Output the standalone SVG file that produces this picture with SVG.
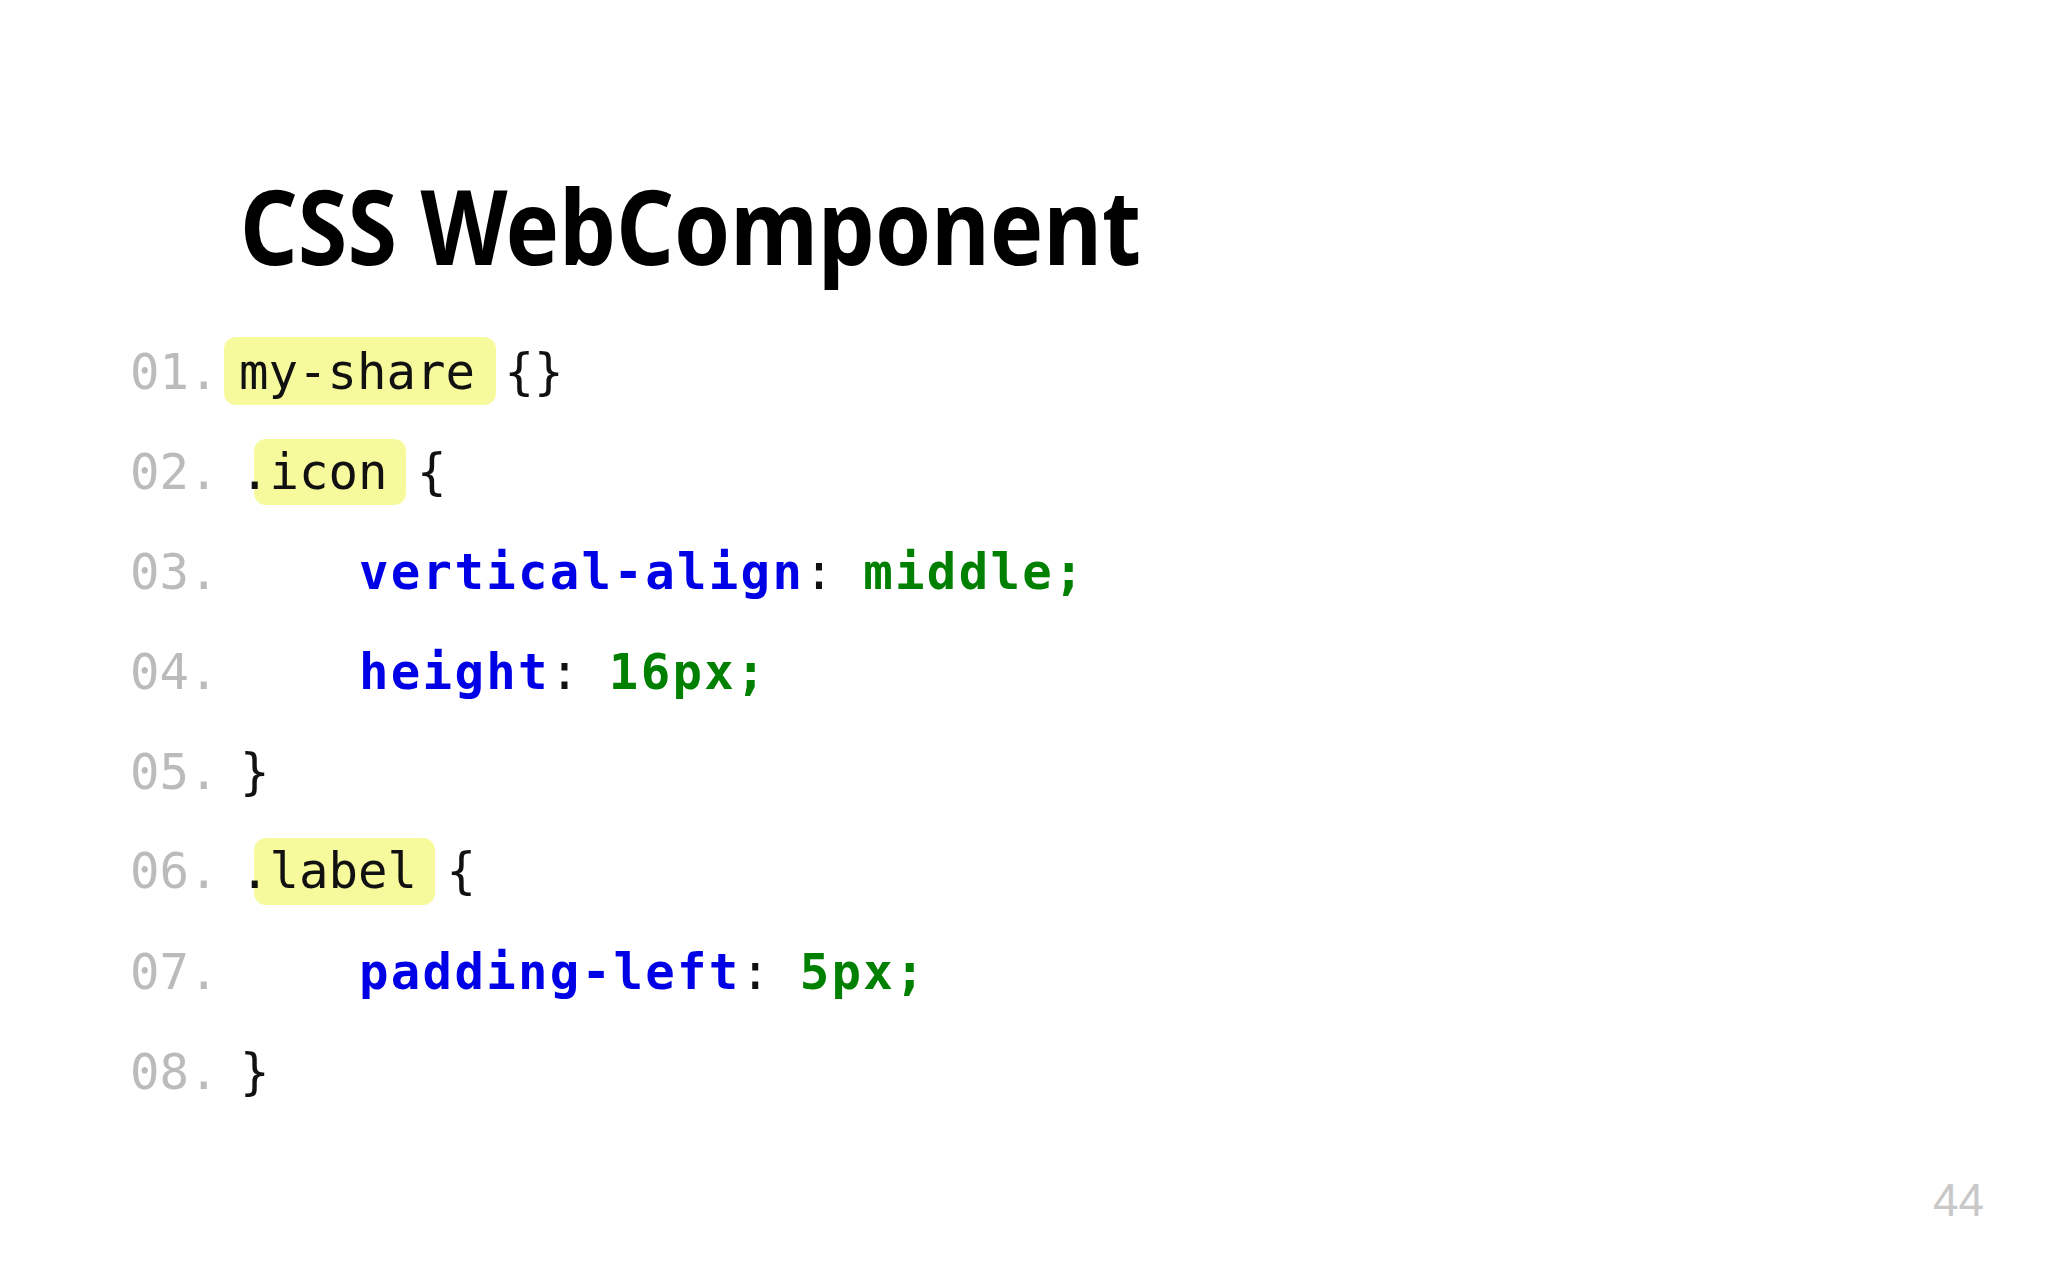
<svg xmlns="http://www.w3.org/2000/svg" width="2048" height="1280" viewBox="0 0 2048 1280">
<style>
.t{font-family:"Noto Sans","Liberation Sans",sans-serif;font-weight:bold;font-size:104px;fill:#000}
.c{font-family:"DejaVu Sans Mono","Liberation Mono",monospace;font-size:49px;fill:#111;white-space:pre}
.n{fill:#bbb}
.k{fill:#0000e6;font-weight:bold;letter-spacing:2.3px}
.v{fill:#008000;font-weight:bold;letter-spacing:2.3px}
.h{fill:#f7fa9c}
.pg{font-family:"Liberation Sans",sans-serif;font-size:46px;fill:#c8c8c8}
</style>
<rect width="2048" height="1280" fill="#fff"/>
<text class="t" x="240" y="265" textLength="901" lengthAdjust="spacingAndGlyphs">CSS WebComponent</text>
<g id="highlights">
<rect class="h" x="224" y="337" width="272" height="68" rx="12"/>
<rect class="h" x="254" y="439" width="152" height="66" rx="12"/>
<rect class="h" x="254" y="838" width="181" height="67" rx="12"/>
</g>
<g id="code">
<text class="c" y="389"><tspan class="n" x="130">01.</tspan><tspan x="239">my-share {}</tspan></text>
<text class="c" y="489"><tspan class="n" x="130">02.</tspan><tspan x="240">.icon {</tspan></text>
<text class="c" y="589"><tspan class="n" x="130">03.</tspan><tspan class="k" x="359">vertical-align</tspan><tspan>: </tspan><tspan class="v">middle;</tspan></text>
<text class="c" y="689"><tspan class="n" x="130">04.</tspan><tspan class="k" x="359">height</tspan><tspan>: </tspan><tspan class="v">16px;</tspan></text>
<text class="c" y="789"><tspan class="n" x="130">05.</tspan><tspan x="240">}</tspan></text>
<text class="c" y="888"><tspan class="n" x="130">06.</tspan><tspan x="240">.label {</tspan></text>
<text class="c" y="989"><tspan class="n" x="130">07.</tspan><tspan class="k" x="359">padding-left</tspan><tspan>: </tspan><tspan class="v">5px;</tspan></text>
<text class="c" y="1089"><tspan class="n" x="130">08.</tspan><tspan x="240">}</tspan></text>
</g>
<text class="pg" x="1933" y="1216">44</text>
</svg>
